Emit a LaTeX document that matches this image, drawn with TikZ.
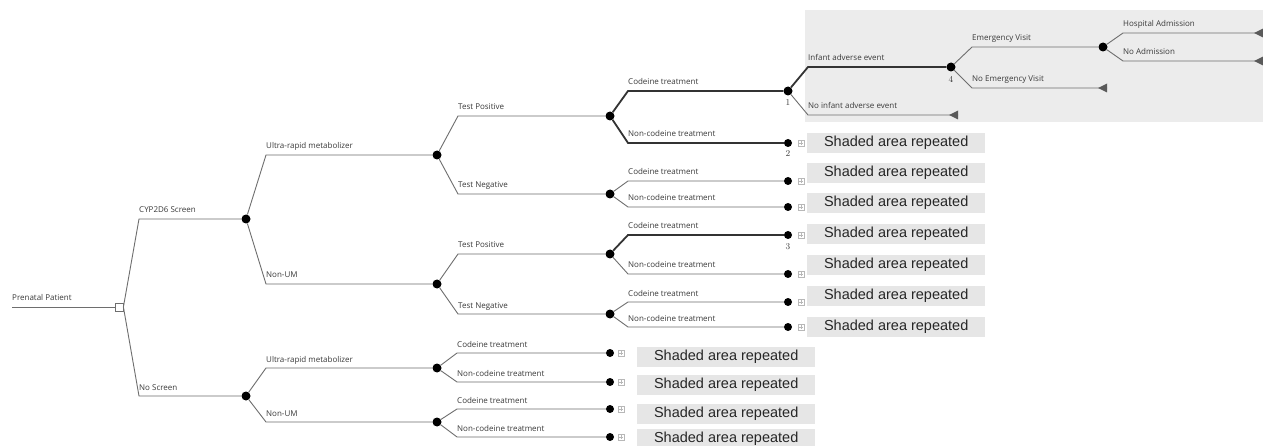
\documentclass[tikz,border=0pt]{standalone}
\usepackage{fontspec}
\newfontfamily\labfont{Open Sans}
\newfontfamily\boxfont{Liberation Sans}
\definecolor{linegray}{HTML}{6E6E6E}
\definecolor{thickline}{HTML}{333333}
\definecolor{labgray}{HTML}{3A3A3A}
\definecolor{boxgray}{HTML}{E6E6E6}
\definecolor{areagray}{HTML}{ECECEC}
\definecolor{termgray}{HTML}{5A5A5A}
\definecolor{icongray}{HTML}{B8B8B8}
\tikzset{
  br/.style={draw=linegray, line width=0.9pt},
  thk/.style={draw=thickline, line width=1.8pt},
  chance/.style={circle, fill=black, inner sep=0pt, minimum size=9pt},
  leaf/.style={circle, fill=black, inner sep=0pt, minimum size=8pt},
  decision/.style={rectangle, draw=linegray, fill=white, line width=0.8pt, inner sep=0pt, minimum size=8pt},
  lbl/.style={font=\labfont\fontsize{8}{9}\selectfont, anchor=base west, inner sep=0pt, text=labgray},
  num/.style={font=\fontsize{9}{10}\selectfont, inner sep=0pt, text=labgray},
  sbox/.style={fill=boxgray, minimum width=178pt, minimum height=20pt, anchor=west, inner sep=0pt,
    font=\boxfont\fontsize{14.5}{16}\selectfont, text={black!85}},
  icon/.style={rectangle, draw=icongray, line width=0.5pt, minimum size=6pt, inner sep=0pt,
    path picture={\draw[icongray, line width=0.4pt] ([xshift=-1.8pt]path picture bounding box.center) -- ([xshift=1.8pt]path picture bounding box.center)
      ([yshift=-1.8pt]path picture bounding box.center) -- ([yshift=1.8pt]path picture bounding box.center);}},
  term/.style={fill=termgray}
}
% #1 style, #2 parent, #3 x of bend, #4 y of line, #5 child, #6 label
\newcommand\tbranch[6][br]{%
  \draw[#1] (#2) -- (#3,#4) -- (#5);
  \node[lbl] (#5-lab) at (#3,#4-6) {#6};}
\newcommand\tterm[1]{\fill[term] (#1) -- ++(0,-4.5) -- ++(-9,4.5) -- ++(9,4.5) -- cycle;}
\begin{document}
\begin{tikzpicture}[x=1pt,y=-1pt]
\clip (0,0) rectangle (1263,446);
\fill[white] (0,0) rectangle (1263,446);
% shaded area
\fill[areagray] (805,10) rectangle (1263,122);

% nodes
\coordinate (start) at (12,307);
\node[decision] (D) at (119,307) {};
\node[chance] (C1) at (246,219) {};
\node[chance] (C2) at (246,396) {};
\node[chance] (U1) at (437,155) {};
\node[chance] (N1) at (437,284) {};
\node[chance] (U2) at (437,368) {};
\node[chance] (N2) at (437,422) {};
\node[chance] (TP1) at (610,116) {};
\node[chance] (TN1) at (610,194) {};
\node[chance] (TP2) at (610,254) {};
\node[chance] (TN2) at (610,314) {};
\node[leaf] (L1) at (610,353) {};
\node[leaf] (L2) at (610,382) {};
\node[leaf] (L3) at (610,409) {};
\node[leaf] (L4) at (610,437) {};
\node[chance] (E1) at (788,91) {};
\node[leaf] (E2) at (788,143) {};
\node[leaf] (E3) at (788,181) {};
\node[leaf] (E4) at (788,207) {};
\node[leaf] (E5) at (788,235) {};
\node[leaf] (E6) at (788,274) {};
\node[leaf] (E7) at (788,302) {};
\node[leaf] (E8) at (788,327) {};
\node[chance] (IA) at (951,67) {};
\node[chance] (EV) at (1103,47) {};
\coordinate (NIA) at (958,115);
\coordinate (NEV) at (1107,88);
\coordinate (HA) at (1263,33);
\coordinate (NA) at (1263,61);

% numbers
\node[num] (n1) at (788,103) {1};
\node[num] (n2) at (788,154) {2};
\node[num] (n3) at (788,247) {3};
\node[num] (n4) at (951,79) {4};

% root
\draw[br] (start) -- (D);
\node[lbl] (root-lab) at (12,301) {Prenatal Patient};
\tbranch{D.east}{139}{219}{C1}{CYP2D6 Screen}
\tbranch{D.east}{139}{396}{C2}{No Screen}
\tbranch{C1}{266}{155}{U1}{Ultra-rapid metabolizer}
\tbranch{C1}{266}{284}{N1}{Non-UM}
\tbranch{C2}{266}{368}{U2}{Ultra-rapid metabolizer}
\tbranch{C2}{266}{422}{N2}{Non-UM}
\tbranch{U1}{458}{116}{TP1}{Test Positive}
\tbranch{U1}{458}{194}{TN1}{Test Negative}
\tbranch{N1}{458}{254}{TP2}{Test Positive}
\tbranch{N1}{458}{314}{TN2}{Test Negative}
\tbranch{U2}{457}{353}{L1}{Codeine treatment}
\tbranch{U2}{457}{382}{L2}{Non-codeine treatment}
\tbranch{N2}{457}{409}{L3}{Codeine treatment}
\tbranch{N2}{457}{437}{L4}{Non-codeine treatment}
\tbranch[thk]{TP1}{628}{91}{E1}{Codeine treatment}
\tbranch[thk]{TP1}{628}{143}{E2}{Non-codeine treatment}
\tbranch{TN1}{628}{181}{E3}{Codeine treatment}
\tbranch{TN1}{628}{207}{E4}{Non-codeine treatment}
\tbranch[thk]{TP2}{628}{235}{E5}{Codeine treatment}
\tbranch{TP2}{628}{274}{E6}{Non-codeine treatment}
\tbranch{TN2}{628}{302}{E7}{Codeine treatment}
\tbranch{TN2}{628}{327}{E8}{Non-codeine treatment}
\tbranch[thk]{E1}{808}{67}{IA}{Infant adverse event}
\tbranch{E1}{808}{115}{NIA}{No infant adverse event}
\tbranch{IA}{972}{47}{EV}{Emergency Visit}
\tbranch{IA}{972}{88}{NEV}{No Emergency Visit}
\tbranch{EV}{1123}{33}{HA}{Hospital Admission}
\tbranch{EV}{1123}{61}{NA}{No Admission}
\tterm{NIA}\tterm{NEV}\tterm{HA}\tterm{NA}

% icons and boxes
\foreach \n in {E2,E3,E4,E5,E6,E7,E8}{\node[icon] (\n-i) at ([xshift=13pt]\n.center) {};}
\foreach \n in {L1,L2,L3,L4}{\node[icon] (\n-i) at ([xshift=11pt]\n.center) {};}
\foreach \y [count=\i] in {143,173,203,234,265,296,327}{\node[sbox] (B\i) at (807,\y) {Shaded area repeated};}
\foreach \y [count=\i] in {357,385,414,439}{\node[sbox] (BB\i) at (637,\y) {Shaded area repeated};}
\end{tikzpicture}
\end{document}
